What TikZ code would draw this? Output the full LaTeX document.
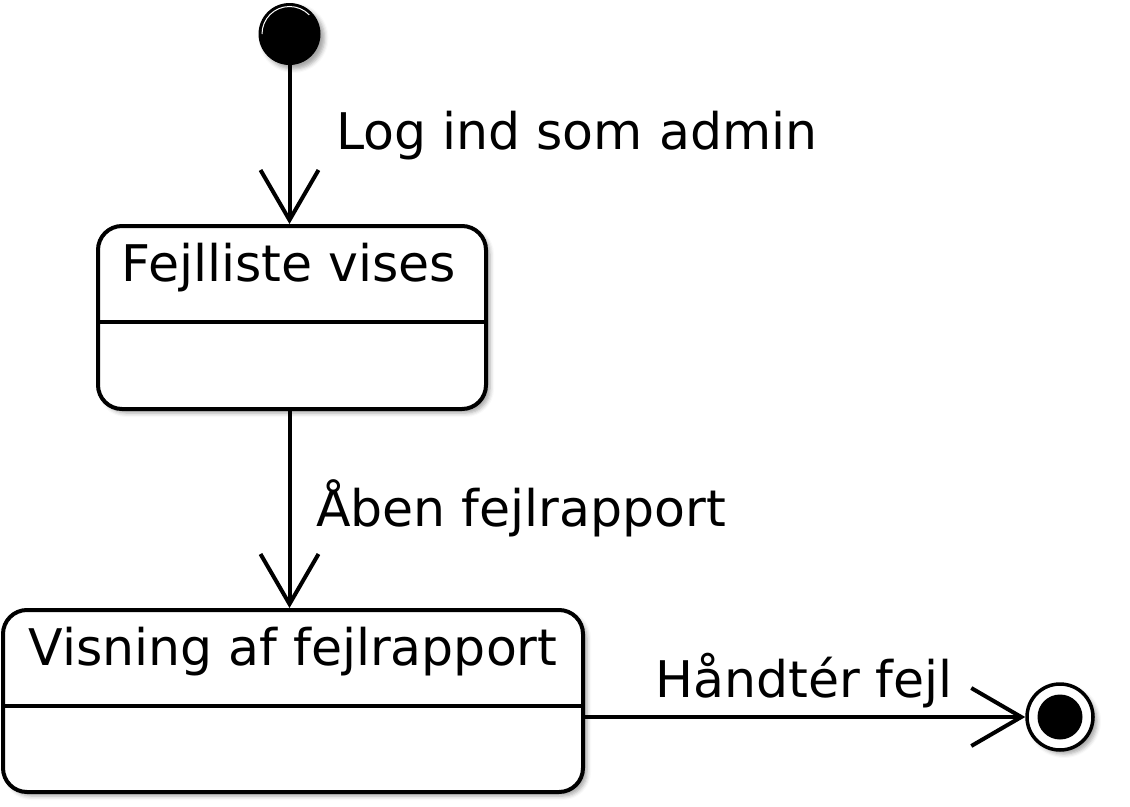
\documentclass[tikz,border=0pt]{standalone}
\usepackage{fontspec}
\setmainfont{DejaVu Sans}
\usetikzlibrary{arrows.meta,shadows.blur}
\begin{document}
\begin{tikzpicture}[x=1pt,y=-1pt,
  every node/.append style={font=\fontsize{50.5}{60}\selectfont},
  softshadow/.style={blur shadow={shadow xshift=4pt,shadow yshift=-4pt,shadow blur radius=4pt,shadow opacity=35}},
  statebox/.style={draw=black, line width=4pt, rounded corners=24pt, fill=white, inner sep=0pt, softshadow},
  divider/.style={line width=4pt},
  trans/.style={line width=4pt, -{Straight Barb[length=50pt,width=58pt,line width=4pt]}},
  lbl/.style={anchor=base west, inner sep=0pt},
  ttl/.style={anchor=base, inner sep=0pt},
  initstate/.style={circle, fill=black, inner sep=0pt, minimum size=62pt, softshadow},
  finstate/.style={circle, draw=black, line width=3.5pt, fill=white, inner sep=0pt, minimum size=66pt, softshadow},
  findot/.style={circle, fill=black, inner sep=0pt, minimum size=45pt}]
\useasboundingbox (0,0) rectangle (1130,806);
% states
\node[initstate] (init) at (289.5,34) {};
\draw[white, line width=1pt] (init.center) ++(180:27.5) arc[start angle=180, end angle=316, radius=27.5];
\node[statebox, minimum width=388pt, minimum height=183pt] (b1) at (292,317.5) {};
\node[statebox, minimum width=580pt, minimum height=182pt] (b2) at (293,701) {};
\node[finstate] (fin) at (1060,717) {};
\node[findot] (findot) at (fin.center) {};
% titles and dividers
\node[ttl] (t1) at (289,281) {Fejlliste vises};
\node[ttl] (t2) at (293,665) {Visning af fejlrapport};
\coordinate (d1) at (0,322);
\coordinate (d2) at (0,706);
\draw[divider] (b1.west |- d1) -- (b1.east |- d1);
\draw[divider] (b2.west |- d2) -- (b2.east |- d2);
% transitions
\draw[trans] (init) -- (b1.north -| init);
\draw[trans] (b1.south -| init) -- (b2.north -| init);
\draw[trans] (b2.east |- fin) -- (fin);
% labels
\node[lbl] (l1) at (336,149) {Log ind som admin};
\node[lbl] (l2) at (316,526) {Åben fejlrapport};
\node[lbl] (l3) at (655,697) {Håndtér fejl};
\end{tikzpicture}
\end{document}
